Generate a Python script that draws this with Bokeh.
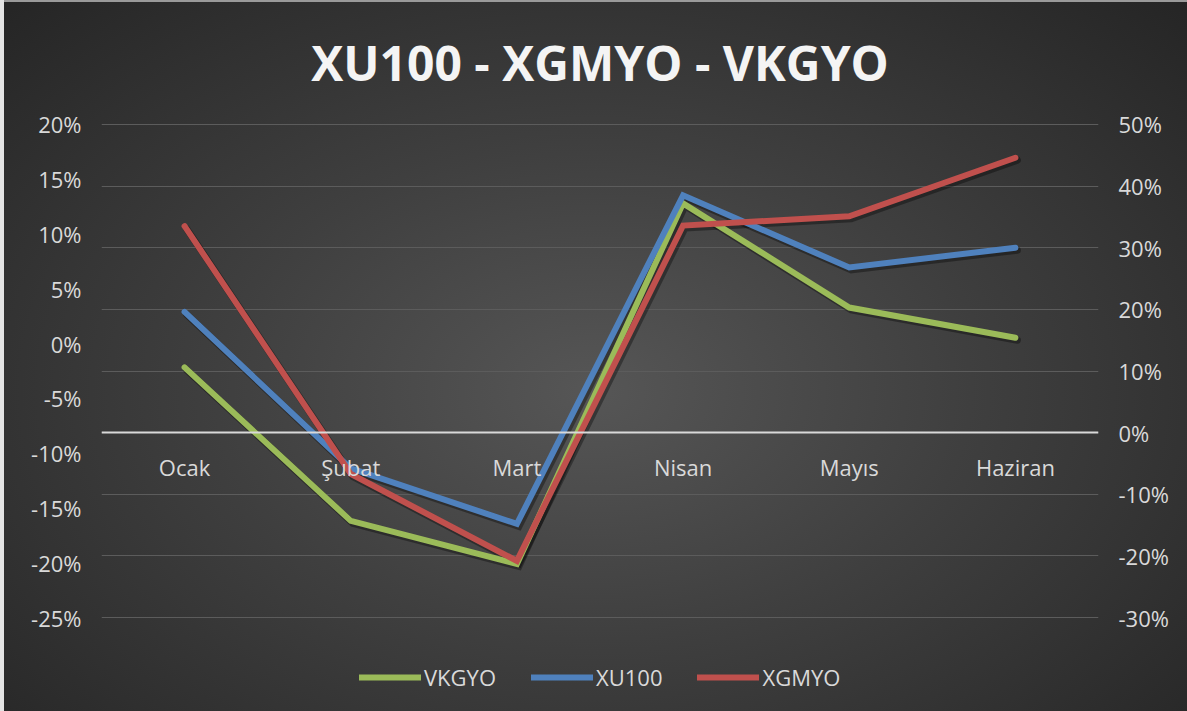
from bokeh.plotting import figure
from bokeh.models import (FactorRange, Range1d, LinearAxis, FixedTicker, PrintfTickFormatter,
                          Legend, LegendItem, InlineStyleSheet, ColumnDataSource)
from bokeh.transform import dodge
from bokeh.embed import file_html
from bokeh.resources import INLINE

# ---- data (percent, read against the right-hand axis) ----
months = ["Ocak", "Şubat", "Mart", "Nisan", "Mayıs", "Haziran"]
vkgyo = [10.6, -14.3, -21.3, 37.2, 20.3, 15.4]
xu100 = [19.6, -5.8, -14.8, 38.5, 26.8, 30.0]
xgmyo = [33.5, -6.7, -20.8, 33.6, 35.1, 44.6]
series_names = ["VKGYO", "XU100", "XGMYO"]
series_colors = ["#9BBB59", "#4F81BD", "#C0504D"]
right_ticks = [-30, -20, -10, 0, 10, 20, 30, 40, 50]
left_ticks = [-25, -20, -15, -10, -5, 0, 5, 10, 15, 20]

FONT = "Open Sans"
LABEL_COLOR = "#d9d9d9"

# plot area extends below the lowest tick to leave room for the legend
W, H = 1187, 711
FRAME_L, FRAME_R, FRAME_T, FRAME_B = 101, 1098, 123, 705
AXIS_BOTTOM_PX = 617          # pixel row of the lowest tick
px_per_unit_r = (AXIS_BOTTOM_PX - FRAME_T) / (right_ticks[-1] - right_ticks[0])
px_per_unit_l = (AXIS_BOTTOM_PX - FRAME_T) / (left_ticks[-1] - left_ticks[0])
extra_px = FRAME_B - AXIS_BOTTOM_PX
top_pad = 0.15
r_range = Range1d(right_ticks[0] - extra_px / px_per_unit_r, right_ticks[-1] + top_pad)
l_range = Range1d(left_ticks[0] - extra_px / px_per_unit_l,
                  left_ticks[-1] + top_pad * px_per_unit_r / px_per_unit_l)

p = figure(width=W, height=H, x_range=FactorRange(*months), y_range=r_range,
           y_axis_location="right", output_backend="svg", toolbar_location=None,
           min_border_left=FRAME_L, min_border_right=W - FRAME_R,
           min_border_top=FRAME_T, min_border_bottom=H - FRAME_B,
           border_fill_color=None, background_fill_color=None, outline_line_color=None)
p.stylesheets = [InlineStyleSheet(css=(
    ":host { background: radial-gradient(ellipse farthest-corner at 50% 55%, "
    "#565656 0%, #3f3f3f 45%, #252525 100%); "
    "box-shadow: inset 4px 0 0 #e4e4e4, inset 0 2px 0 #9a9a9a; }"))]

# title
p.title.text = "XU100 - XGMYO - VKGYO"
p.title.align = "center"
p.title.vertical_align = "top"
p.title.text_font = FONT
p.title.text_font_size = "48px"
p.title.text_font_style = "bold"
p.title.text_color = "#f4f4f4"
p.title.standoff = 54

# right (primary) axis
ra = p.yaxis[0]
ra.ticker = FixedTicker(ticks=right_ticks)
ra.formatter = PrintfTickFormatter(format="%d%%")

# left (secondary) axis
p.extra_y_ranges = {"left": l_range}
la = LinearAxis(y_range_name="left", ticker=FixedTicker(ticks=left_ticks),
                formatter=PrintfTickFormatter(format="%d%%"))
p.add_layout(la, "left")

for ax in (ra, la):
    ax.axis_line_color = None
    ax.major_tick_line_color = None
    ax.minor_tick_line_color = None
    ax.major_tick_out = 0
    ax.major_tick_in = 0
    ax.major_label_text_font = FONT
    ax.major_label_text_font_size = "22px"
    ax.major_label_text_color = LABEL_COLOR
    ax.major_label_standoff = 20

# category axis crossing at 0
xa = p.xaxis[0]
xa.fixed_location = 0
xa.axis_line_color = "#d9d9d9"
xa.axis_line_width = 2
xa.major_tick_line_color = None
xa.minor_tick_line_color = None
xa.major_tick_out = 0
xa.major_tick_in = 0
xa.major_label_text_font = FONT
xa.major_label_text_font_size = "22px"
xa.major_label_text_color = LABEL_COLOR
xa.major_label_standoff = 19

p.xgrid.grid_line_color = None
p.ygrid.ticker = FixedTicker(ticks=right_ticks)
p.ygrid.grid_line_color = "#5c5c5c"
p.ygrid.grid_line_width = 1

src = ColumnDataSource(dict(month=months, VKGYO=vkgyo, XU100=xu100, XGMYO=xgmyo))

# soft drop shadows under the lines
shadow_shift = -2.5 / px_per_unit_r
for name in series_names:
    p.line(x=dodge("month", 0.012, range=p.x_range), y=dodge(name, shadow_shift), source=src,
           line_color="black", line_alpha=0.35, line_width=7, line_cap="round", line_join="miter")

items = []
for name, col in zip(series_names, series_colors):
    r = p.line(x="month", y=name, source=src, line_color=col, line_width=6,
               line_cap="round", line_join="miter")
    items.append(LegendItem(label=name, renderers=[r]))

legend = Legend(items=items, orientation="horizontal", location=(258, 13),
                background_fill_alpha=0, border_line_alpha=0, padding=0, margin=0,
                spacing=35, label_standoff=3, glyph_width=62, glyph_height=22,
                label_text_font=FONT, label_text_font_size="22px", label_text_color=LABEL_COLOR)
p.add_layout(legend, "center")

open("out.html", "w").write(file_html(p, INLINE))
